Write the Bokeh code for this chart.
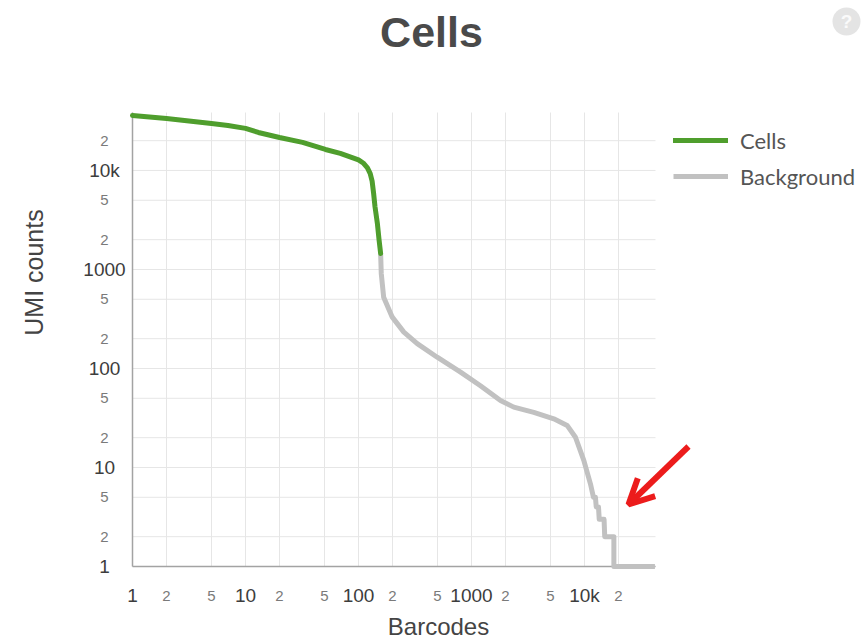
import math
from bokeh.plotting import figure
from bokeh.models import (Range1d, Label, Legend, LegendItem, Arrow, OpenHead)
from bokeh.embed import file_html
from bokeh.resources import INLINE
from bokeh.core.properties import value

# ---- data ----
cells_rank = [1, 2, 5, 7, 10, 13, 20, 32, 51, 69, 100, 110, 120, 127, 132, 136, 140,
              147, 152, 157]
cells_umi = [36000, 33500, 29800, 28500, 26600, 24200, 21500, 19200, 16300, 14900,
             12800, 11900, 10600, 9300, 7800, 5900, 4300, 2900, 2000, 1450]

bg_rank = [157, 159, 167, 199, 252, 331, 497, 800, 1200, 1806, 2366, 3560, 5350,
           7020, 8320, 9860, 11300, 12000, 12500, 12700, 13300, 13500, 14900,
           15100, 18200, 18200, 42000]
bg_umi = [1450, 912, 525, 330, 233, 178, 130, 92, 67, 47.5, 40.7, 36, 31,
          26.6, 20.2, 11.8, 6.8, 5, 5, 4, 4, 3, 3,
          2, 2, 1, 1]

major_ticks = [1, 10, 100, 1000, 10000]
major_labels = ["1", "10", "100", "1000", "10k"]
minor_ticks = [2, 5, 20, 50, 200, 500, 2000, 5000, 20000]
minor_labels = ["2", "5", "2", "5", "2", "5", "2", "5", "2"]
grid_ticks = sorted(major_ticks + minor_ticks)

x_min, x_max = 1, 42500
y_min, y_max = 1, 38500

title_text = "Cells"
x_title = "Barcodes"
y_title = "UMI counts"
series_names = ["Cells", "Background"]

# ---- layout (pixels inside the canvas) ----
W, H = 861, 640
PL, PR, PT, PB = 132, 655, 112, 566      # plot area edges
DX = (PR - PL) / math.log10(x_max / x_min)
DY = (PB - PT) / math.log10(y_max / y_min)
x_lo = x_min * 10 ** (-PL / DX)
x_hi = x_min * 10 ** ((W - PL) / DX)
y_lo = y_min * 10 ** (-(H - PB) / DY)
y_hi = y_min * 10 ** (PB / DY)


def at(px, py):
    """canvas pixel -> data coordinates (for decorations only)"""
    return x_min * 10 ** ((px - PL) / DX), y_min * 10 ** ((PB - py) / DY)


GREEN = "#4f9e2d"
GRAY = "#c1c1c1"
RED = "#ec1c1c"
FONT = "Liberation Sans"

p = figure(width=W, height=H, x_axis_type="log", y_axis_type="log",
           x_range=Range1d(x_lo, x_hi), y_range=Range1d(y_lo, y_hi),
           x_axis_location=None, y_axis_location=None, title=None,
           output_backend="svg", toolbar_location=None, min_border=0)
p.outline_line_color = None
p.grid.visible = False

# grid
p.segment(x0=grid_ticks, y0=[y_min] * len(grid_ticks), x1=grid_ticks,
          y1=[y_max] * len(grid_ticks), line_color="#e6e6e6", line_width=1)
p.segment(x0=[x_min] * len(grid_ticks), y0=grid_ticks, x1=[x_max] * len(grid_ticks),
          y1=grid_ticks, line_color="#e6e6e6", line_width=1)
# axis lines
p.segment(x0=[x_min, x_min], y0=[y_min, y_min], x1=[x_min, x_max], y1=[y_max, y_min],
          line_color="#a3a3a3", line_width=1.5)

bg = p.line(bg_rank, bg_umi, line_width=5, line_color=GRAY, line_join="round")
cl = p.line(cells_rank, cells_umi, line_width=5, line_color=GREEN, line_join="round",
            line_cap="round")

legend = Legend(items=[LegendItem(label=series_names[0], renderers=[cl]),
                       LegendItem(label=series_names[1], renderers=[bg])],
                location=(673, H - 122 - 72), orientation="vertical",
                glyph_width=55, glyph_height=36, spacing=0, label_standoff=12,
                padding=0, margin=0, border_line_color=None,
                background_fill_alpha=0, label_text_font="Lato",
                label_text_font_size="22px", label_text_color="#555555")
p.add_layout(legend)


def add_labels(xs, ys, texts, size, color, xo=0, yo=0):
    p.text(x=xs, y=ys, text=texts, x_offset=xo, y_offset=yo,
           text_align="center", text_baseline="middle",
           text_font=value(FONT), text_font_size=value(size), text_color=color)


add_labels([x_min] * len(major_ticks), major_ticks, major_labels, "19px", "#3d3d3d", xo=-28)
add_labels([x_min] * len(minor_ticks), minor_ticks, minor_labels, "15px", "#7a7a7a", xo=-28)
add_labels(major_ticks, [y_min] * len(major_ticks), major_labels, "19px", "#3d3d3d", yo=29)
add_labels(minor_ticks, [y_min] * len(minor_ticks), minor_labels, "15px", "#7a7a7a", yo=29)

tx, ty = at(431, 31)
p.add_layout(Label(x=tx, y=ty, text=title_text, text_align="center",
                   text_baseline="middle", text_font=FONT, text_font_size="43px",
                   text_font_style="bold", text_color="#4a4a4a"))
bx, by = at(438, 626)
p.add_layout(Label(x=bx, y=by, text=x_title, text_align="center",
                   text_baseline="middle", text_font=FONT, text_font_size="24px",
                   text_color="#444444"))
ux, uy = at(33, 272)
p.add_layout(Label(x=ux, y=uy, angle=math.pi / 2, text=y_title,
                   text_align="center", text_baseline="middle", text_font=FONT,
                   text_font_size="25px", text_color="#444444"))

# help icon at the top right corner
hx, hy = at(846, 21)
p.scatter(x=[hx], y=[hy], size=28, marker="circle", fill_color="#e4e4e4",
          line_color=None)
p.text(x=[hx], y=[hy], text=["?"], text_align="center", text_baseline="middle",
       text_font=value(FONT), text_font_size=value("19px"), text_font_style="bold",
       text_color="#fafafa")

ax0, ay0 = at(688, 446)
ax1, ay1 = at(628, 504)
p.add_layout(Arrow(x_start=ax0, y_start=ay0, x_end=ax1, y_end=ay1,
                   line_color=RED, line_width=6,
                   end=OpenHead(size=25, line_width=6, line_color=RED)))

open("out.html", "w").write(file_html(p, INLINE))
